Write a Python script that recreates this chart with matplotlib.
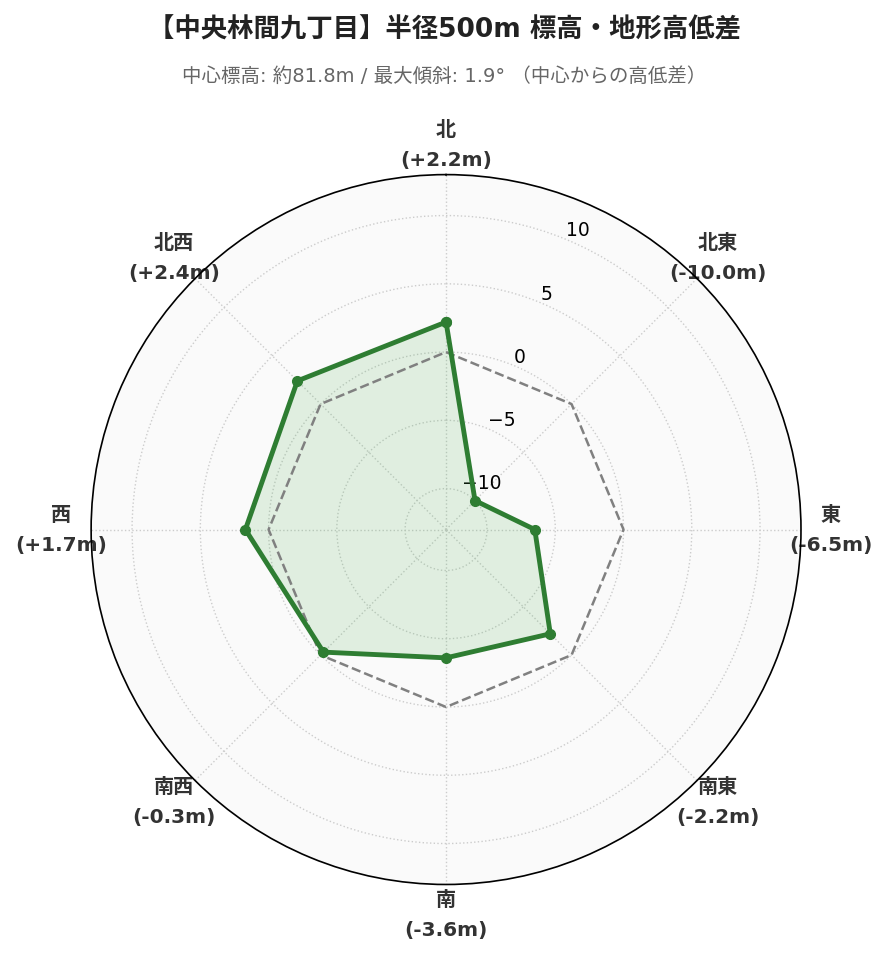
import matplotlib
matplotlib.use('Agg')
import matplotlib.pyplot as plt
import numpy as np

plt.rcParams['font.family'] = ['DejaVu Sans', 'Noto Sans CJK JP']

DIRECTIONS = ['北', '北東', '東', '南東', '南', '南西', '西', '北西']
DIFFS = [2.2, -10.0, -6.5, -2.2, -3.6, -0.3, 1.7, 2.4]
RTICKS = [-10, -5, 0, 5, 10]

angles = np.linspace(0, 2 * np.pi, len(DIRECTIONS), endpoint=False)
closed_a = np.append(angles, angles[0])
closed_v = np.append(DIFFS, DIFFS[0])

fig = plt.figure(figsize=(8.89, 9.62), dpi=100)
ax = fig.add_axes([0.1025, 0.0795, 0.7985, 0.738], projection='polar')
ax.set_theta_offset(np.pi / 2)
ax.set_theta_direction(-1)
ax.set_facecolor('#fafafa')
ax.set_ylim(-13, 13)

ax.plot(closed_a, np.zeros_like(closed_v), color='gray', linestyle='--', linewidth=1.8, zorder=3)
ax.fill(closed_a, closed_v, color='#4caf50', alpha=0.15, zorder=2)
ax.plot(closed_a, closed_v, color='#2e7d32', linewidth=3.5, marker='o', markersize=7, zorder=4)

ax.set_xticks(angles)
ax.set_xticklabels([f'{d}\n({v:+.1f}m)' for d, v in zip(DIRECTIONS, DIFFS)],
                   fontsize=14.5, fontweight='bold', color='#333333', linespacing=1.7)
ax.tick_params(axis='x', pad=11)
ax.set_yticks(RTICKS)
ax.set_yticklabels([f'{t}'.replace('-', '\u2212') for t in RTICKS], fontsize=13.5)
ax.set_rlabel_position(22.5)
ax.grid(True, color='#cccccc', linestyle=':', linewidth=1)
ax.spines['polar'].set_linewidth(1.2)

fig.text(0.5, 0.968, '【中央林間九丁目】半径500m 標高・地形高低差', ha='center', va='center',
         fontsize=19, fontweight='bold', color='#222222')
fig.text(0.5, 0.921, '中心標高: 約81.8m / 最大傾斜: 1.9° （中心からの高低差）', ha='center', va='center',
         fontsize=14, color='#666666')

fig.savefig('out.png', dpi=100)
